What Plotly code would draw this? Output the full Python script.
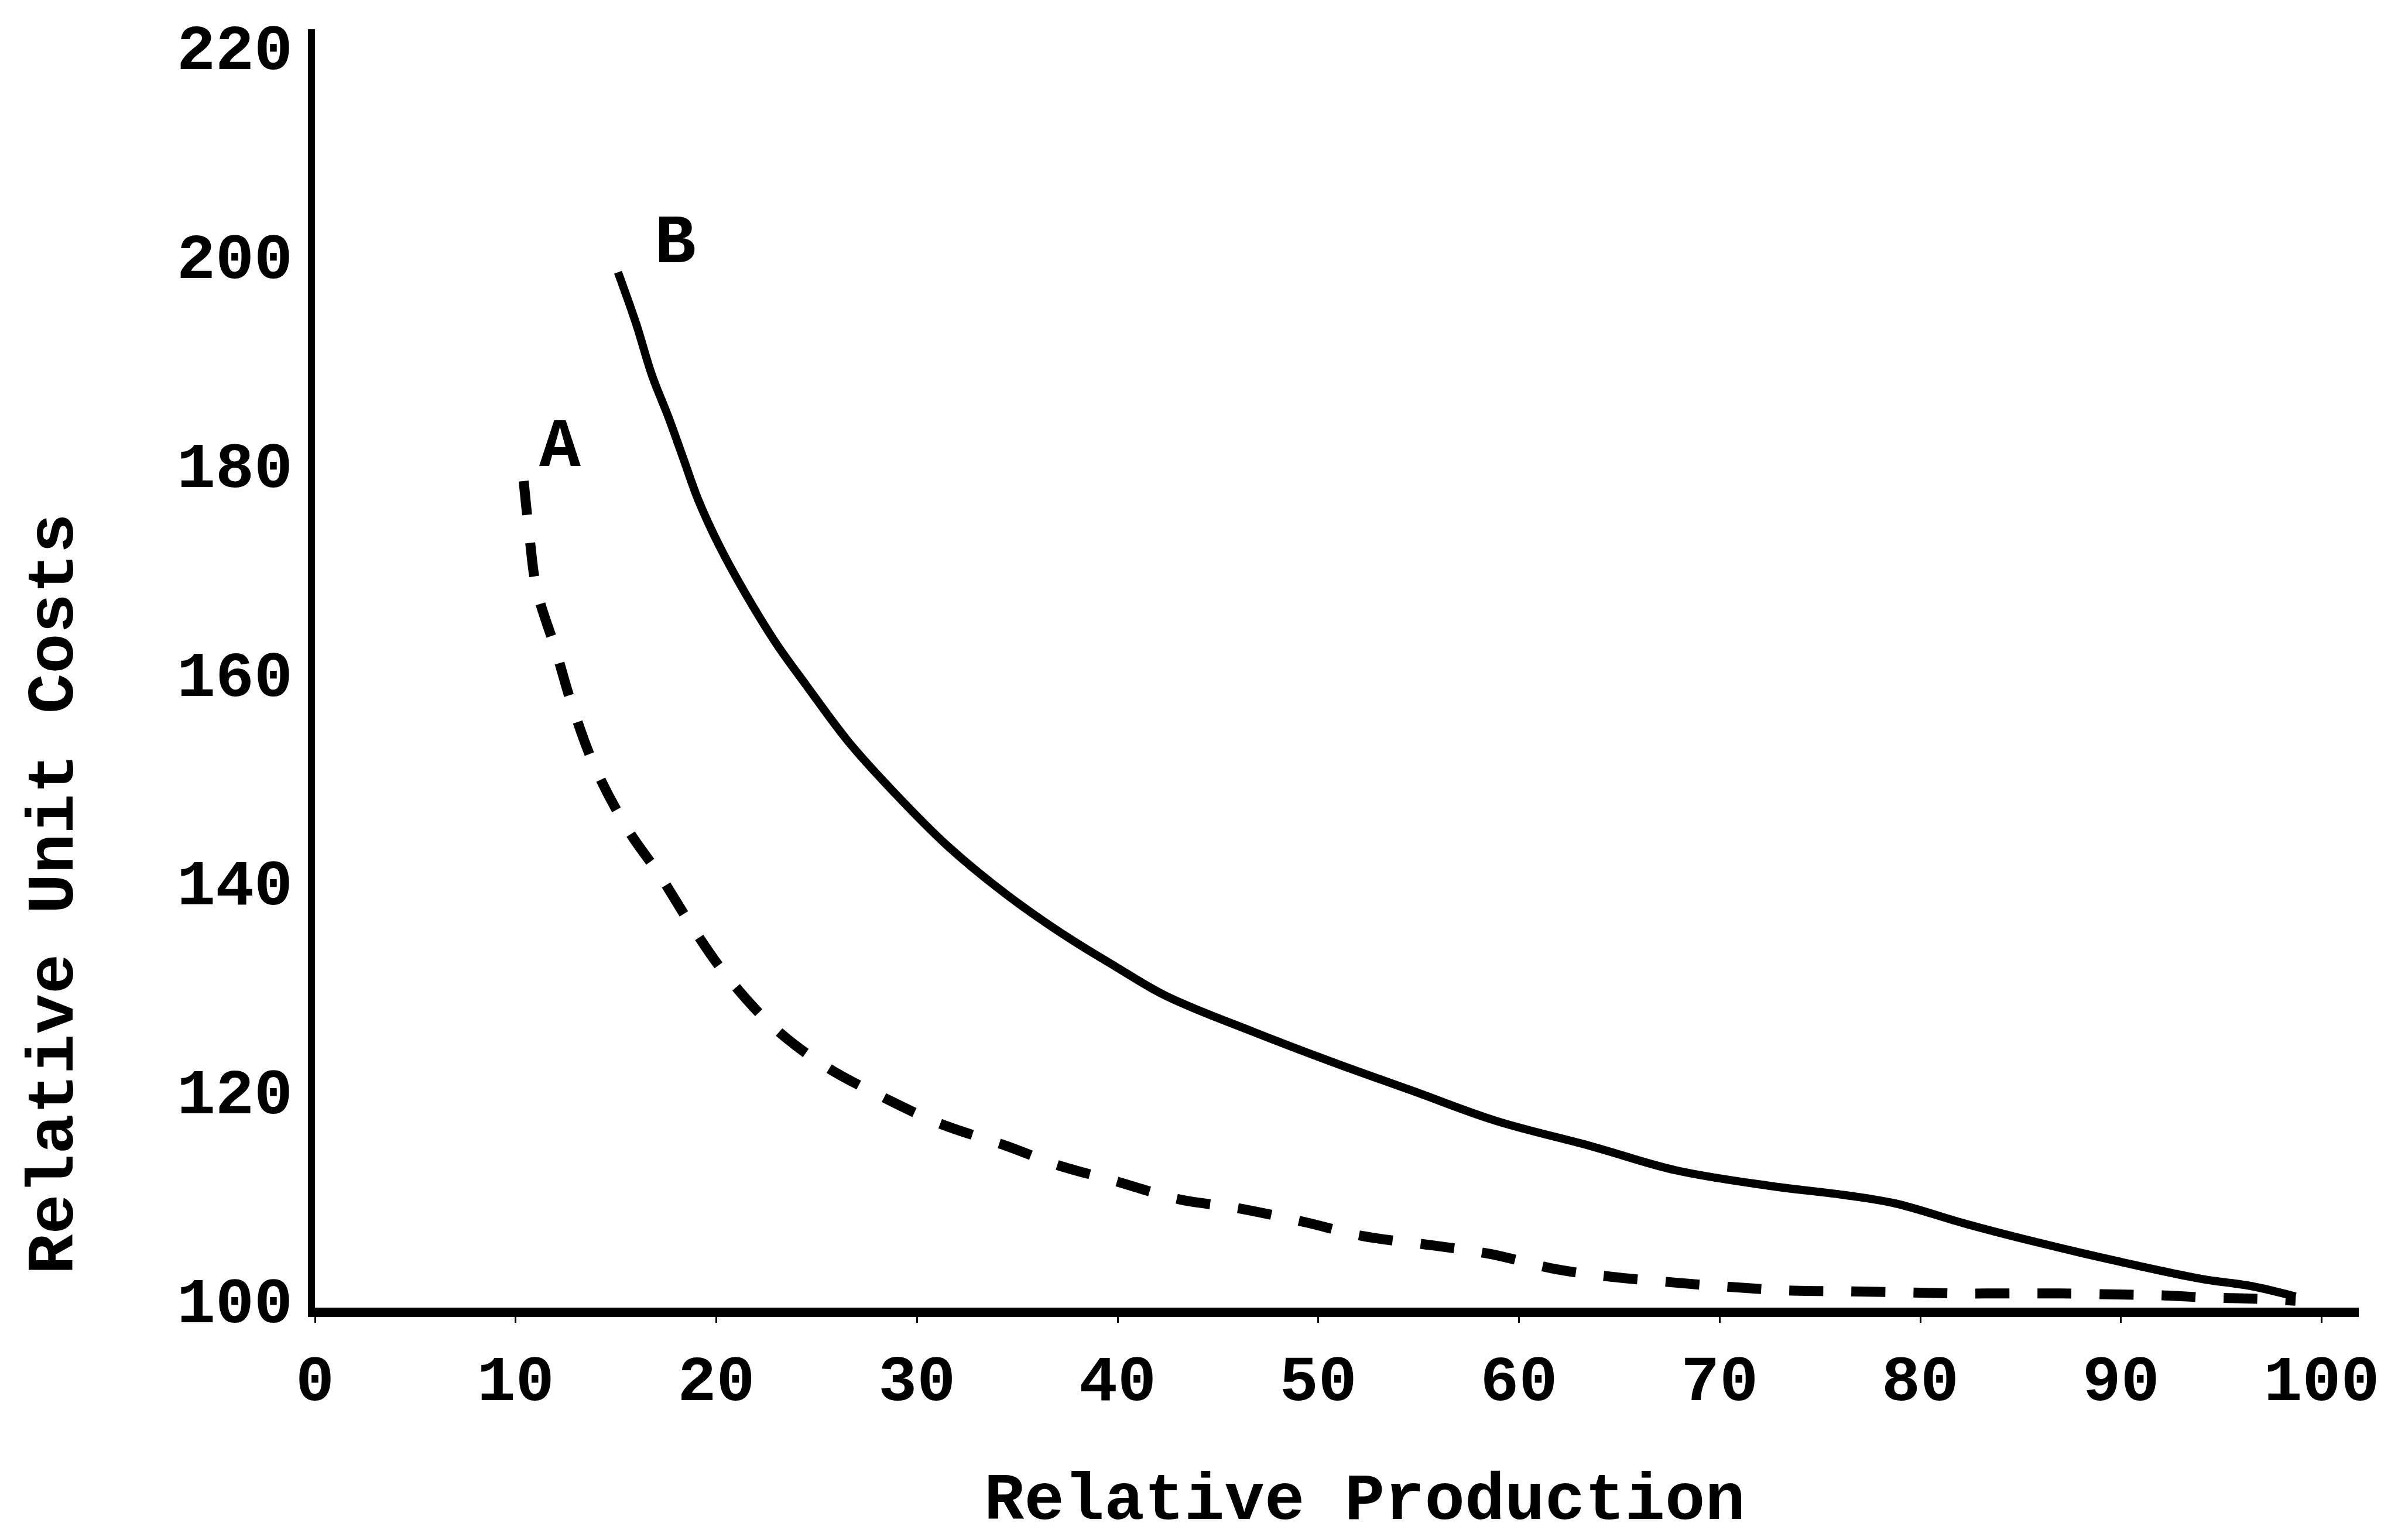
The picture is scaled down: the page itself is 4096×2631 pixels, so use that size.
import plotly.graph_objects as go

# ---- data ----
a_x = [10.4, 10.7, 11.05, 12.0, 12.8, 13.95, 15.6, 17.2, 18.7, 20.4, 22.8, 25.4,
       28.2, 31.1, 34.5, 37.0, 39.8, 43.1, 45.9, 49.4, 52.2, 55.7, 58.5, 61.9,
       64.6, 68.0, 70.7, 73.2, 76.3, 79.4, 81.8, 84.5, 87.0, 89.8, 92.2, 94.4,
       96.6, 98.7]
a_y = [178.4, 172.9, 168.0, 162.2, 157.0, 151.0, 145.0, 140.6, 136.0, 131.3,
       126.2, 122.4, 119.5, 116.9, 114.7, 112.9, 111.4, 109.6, 108.8, 107.4,
       106.1, 105.2, 104.4, 102.9, 102.2, 101.6, 101.2, 100.9, 100.8, 100.7,
       100.6, 100.6, 100.6, 100.5, 100.4, 100.2, 100.1, 99.9]

b_x = [15.1, 16.0, 16.8, 17.6, 18.35, 19.1, 20.15, 21.4, 23.0, 24.5, 26.6, 28.9,
       31.5, 34.6, 37.6, 39.9, 42.4, 46.7, 50.5, 54.7, 58.9, 63.6, 67.8, 72.5,
       76.3, 78.8, 82.2, 85.6, 89.8, 94.0, 96.5, 98.7]
b_y = [198.4, 193.5, 188.5, 184.6, 180.6, 176.6, 172.2, 167.8, 162.8, 158.8,
       153.4, 148.5, 143.5, 138.6, 134.6, 131.9, 129.1, 125.7, 122.9, 120.0,
       117.1, 114.7, 112.4, 110.9, 110.0, 109.2, 107.3, 105.6, 103.7, 102.0,
       101.3, 100.3]

x_ticks = [0, 10, 20, 30, 40, 50, 60, 70, 80, 90, 100]
y_ticks = [100, 120, 140, 160, 180, 200, 220]

curve_labels = ["A", "B"]
label_x = [12.2, 17.95]
label_y = [181.6, 201.1]

x_title = "Relative Production"
y_title = "Relative Unit Costs"

FONT = "Liberation Mono"

fig = go.Figure()
fig.add_trace(go.Scatter(
    x=a_x, y=a_y, mode="lines", name="A",
    line=dict(color="black", width=17, dash="58px,48px", shape="spline"),
))
fig.add_trace(go.Scatter(
    x=b_x, y=b_y, mode="lines", name="B",
    line=dict(color="black", width=14, shape="spline"),
))

for t, lx, ly in zip(curve_labels, label_x, label_y):
    fig.add_annotation(x=lx, y=ly, text=t, showarrow=False,
                       font=dict(family=FONT, size=118, color="black", weight="bold"),
                       xanchor="center", yanchor="middle")

fig.add_annotation(x=0.5136, y=-0.1511, xref="paper", yref="paper",
                   text=x_title, showarrow=False,
                   font=dict(family=FONT, size=114, color="black", weight="bold"),
                   xanchor="center", yanchor="middle")
fig.add_annotation(x=-0.1275, y=0.3237, xref="paper", yref="paper",
                   text=y_title, showarrow=False, textangle=-90,
                   font=dict(family=FONT, size=114, color="black", weight="bold"),
                   xanchor="center", yanchor="middle")

fig.update_layout(
    width=4096, height=2631,
    margin=dict(l=530, r=75, t=42, b=405, pad=0),
    paper_bgcolor="white", plot_bgcolor="white",
    showlegend=False,
    xaxis=dict(
        range=[0, 101.85], tickvals=x_ticks, ticktext=[str(v) for v in x_ticks],
        showline=True, linecolor="black", linewidth=16,
        ticks="outside", ticklen=10, tickwidth=3, tickcolor="black",
        ticklabelstandoff=0,
        showgrid=False, zeroline=False,
        tickfont=dict(family=FONT, size=110, color="black", weight="bold"),
    ),
    yaxis=dict(
        range=[99.24, 221.67], tickvals=y_ticks, ticktext=[str(v) for v in y_ticks],
        showline=True, linecolor="black", linewidth=12,
        ticks="", ticklabelstandoff=4,
        showgrid=False, zeroline=False,
        tickfont=dict(family=FONT, size=110, color="black", weight="bold"),
    ),
)

fig.write_html("out.html")
